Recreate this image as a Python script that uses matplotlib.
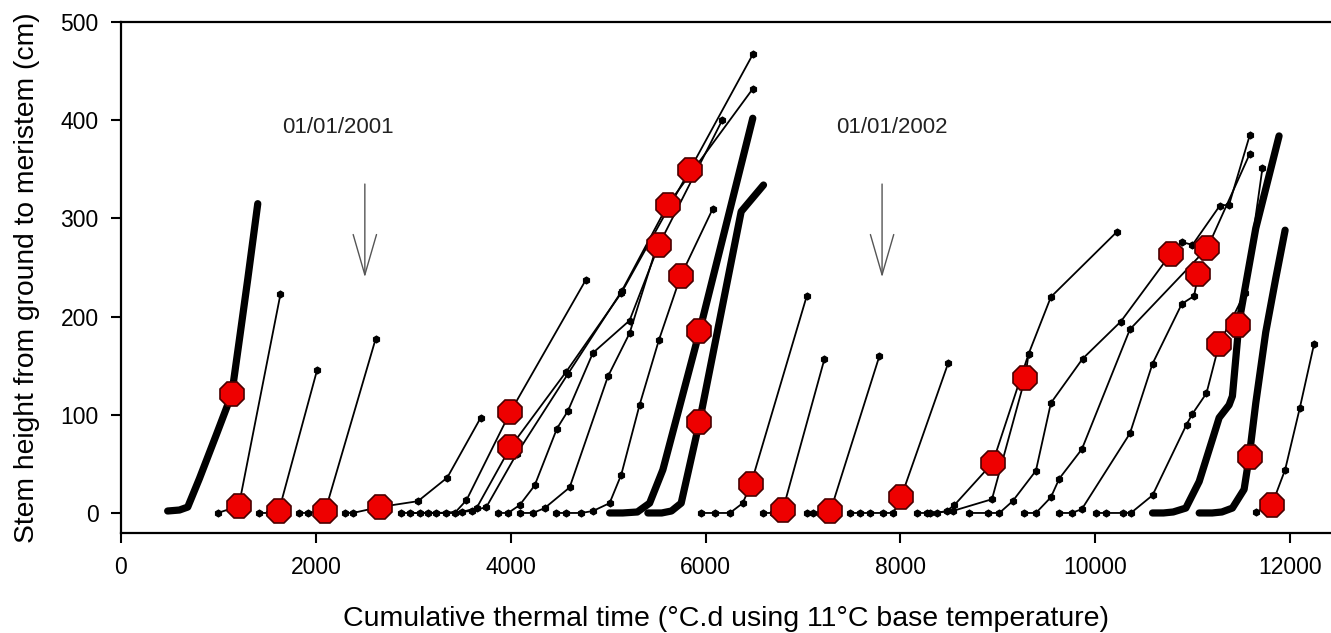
import matplotlib
matplotlib.use("Agg")
import matplotlib.pyplot as plt

plt.rcParams['font.family'] = ['Liberation Sans', 'DejaVu Sans']

# --- thick stems (dense records), (thermal time, height) ---
thick_a = [(479, 2), (600, 3), (685, 6), (805, 35), (976, 79), (1137, 121),
           (1216, 177), (1301, 238), (1404, 315)]
thick_b = [(5015, 0), (5150, 0), (5300, 1), (5426, 10), (5562, 44), (5938, 185),
           (6485, 402)]
thick_c = [(5408, 0), (5550, 0), (5650, 2), (5750, 10), (5938, 93), (6366, 307),
           (6595, 334)]
thick_d = [(10588, 0), (10700, 0), (10800, 1), (10930, 5), (11067, 32), (11203, 75),
           (11272, 97), (11374, 110), (11408, 119), (11477, 195), (11648, 290),
           (11887, 384)]
thick_e = [(11067, 0), (11200, 0), (11300, 1), (11408, 5), (11528, 24), (11580, 57),
           (11648, 112), (11750, 184), (11853, 239), (11949, 288)]

# --- thin stems (sparse records) ---
e2 = [(993, 0), (1209, 7), (1637, 223)]
e3 = [(1414, 0), (1520, 0), (1620, 2), (2014, 146)]
e4 = [(1832, 0), (1918, 0), (2096, 2), (2613, 177)]
e5 = [(2295, 0), (2380, 0), (2654, 6), (3048, 12), (3349, 36), (3692, 97)]
m1 = [(2877, 0), (3151, 0), (3425, 0), (3546, 13), (3997, 103), (4769, 237)]
m2 = [(2962, 0), (3236, 0), (3500, 1), (3650, 5), (3997, 67), (4571, 144),
      (5135, 224), (5836, 349), (6485, 467)]
m3 = [(3065, 0), (3339, 0), (3600, 2), (3750, 6), (4060, 60), (4590, 142),
      (5140, 226), (5613, 314), (6485, 432)]
m4 = [(3870, 0), (3973, 0), (4092, 8), (4246, 28), (4475, 86), (4588, 104),
      (4844, 163), (5220, 196), (5521, 273), (6171, 400)]
m5 = [(4100, 0), (4229, 0), (4349, 5), (4605, 26), (4998, 139), (5220, 183),
      (5494, 270)]
m6 = [(4468, 0), (4571, 0), (4725, 0), (4844, 2), (5015, 10), (5135, 39),
      (5323, 110), (5521, 176), (5744, 241), (6075, 310)]
p1 = [(5950, 0), (6100, 0), (6250, 0), (6382, 10), (6468, 30), (7039, 221)]
p2 = [(6588, 0), (6690, 0), (6793, 3), (7221, 157)]
p3 = [(7039, 0), (7107, 0), (7180, 0), (7282, 2), (7785, 160)]
p4 = [(7483, 0), (7585, 0), (7688, 0), (7825, 0), (7928, 0), (8007, 16), (8492, 153)]
n1 = [(8167, 0), (8270, 0), (8372, 0), (8474, 2), (8554, 8), (8947, 51), (9316, 162)]
n2 = [(8300, 0), (8536, 2), (8940, 14), (9279, 137), (9316, 162), (9545, 220),
      (10219, 286)]
n3 = [(8700, 0), (8900, 0), (9016, 0), (9152, 12), (9391, 43), (9545, 112),
      (9870, 157), (10263, 195), (10776, 264), (10889, 276), (10998, 273),
      (11279, 313), (11374, 314), (11587, 385)]
n4 = [(9272, 0), (9391, 0), (9545, 16), (9631, 35), (9863, 65), (10356, 187),
      (11152, 270), (11587, 366)]
n5 = [(9631, 0), (9760, 0), (9863, 4), (10356, 81), (10588, 152), (10889, 213),
      (11015, 221), (11056, 243)]
n6 = [(10007, 0), (10110, 0), (10281, 0), (10366, 0), (10588, 18), (10937, 90),
      (10998, 101), (11142, 122), (11272, 172), (11536, 224), (11716, 351)]
n7 = [(11648, 1), (11812, 8), (11949, 44), (12100, 107), (12246, 172)]

thick_series = [thick_a, thick_b, thick_c, thick_d, thick_e]
thin_series = [e2, e3, e4, e5, m1, m2, m3, m4, m5, m6,
               p1, p2, p3, p4, n1, n2, n3, n4, n5, n6, n7]

# --- red octagons (event on each stem) ---
event_x = [1137, 1209, 1620, 2096, 2654, 3997, 3997, 5521, 5613, 5836, 5744, 5938,
           5938, 6468, 6793, 7282, 8007, 8947, 9279, 10776, 11056, 11152, 11470,
           11272, 11587, 11812]
event_y = [121, 7, 2, 2, 6, 103, 67, 273, 314, 349, 241, 185,
           93, 30, 3, 2, 16, 51, 137, 264, 243, 270, 191,
           172, 57, 8]

# --- new-year markers ---
year_labels = ['01/01/2001', '01/01/2002']
year_label_x = [2224, 7910]
year_label_y = [393, 393]
arrow_x = [2503, 7812]
arrow_top = [335, 335]
arrow_tip = [240, 240]

fig = plt.figure(figsize=(13.31, 6.33), dpi=100)
ax = fig.add_axes([0.0909, 0.1586, 0.9091, 0.8066])

for s in thin_series:
    xs, ys = zip(*s)
    ax.plot(xs, ys, color='black', lw=1.3, marker='h', ms=4.8, mfc='black',
            mec='black', zorder=2)

for s in thick_series:
    xs, ys = zip(*s)
    ax.plot(xs, ys, color='black', lw=5.2, solid_capstyle='round',
            solid_joinstyle='round', zorder=3)

ax.plot(event_x, event_y, ls='none', marker='8', ms=18, mfc='#ee0000',
        mec='#4a0000', mew=1.2, zorder=5)

for lab, lx, ly in zip(year_labels, year_label_x, year_label_y):
    ax.text(lx, ly, lab, ha='center', va='center', fontsize=16, color='#222222')

for ax_, top, tip in zip(arrow_x, arrow_top, arrow_tip):
    ax.annotate('', xy=(ax_, tip), xytext=(ax_, top),
                arrowprops=dict(arrowstyle='->,head_length=1.45,head_width=0.42',
                                color='#555555', lw=1.0, shrinkA=0, shrinkB=0,
                                mutation_scale=20))

ax.set_xlim(0, 12420)
ax.set_ylim(-20, 500)
ax.set_xticks([0, 2000, 4000, 6000, 8000, 10000, 12000])
ax.set_yticks([0, 100, 200, 300, 400, 500])
ax.tick_params(axis='both', direction='out', length=7, width=1.5,
               labelsize=16.5, colors='black')
ax.tick_params(axis='x', pad=10)
ax.tick_params(axis='y', pad=9)
for side in ['left', 'bottom', 'top']:
    ax.spines[side].set_linewidth(1.6)
ax.spines['right'].set_visible(False)

ax.set_xlabel('Cumulative thermal time (°C.d using 11°C base temperature)',
              fontsize=20.5, va='center')
ax.xaxis.set_label_coords(0.5, -0.169)
ax.set_ylabel('Stem height from ground to meristem (cm)', fontsize=20.3, va='center')
ax.yaxis.set_label_coords(-0.0777, 0.5)

fig.savefig('out.png', dpi=100)
